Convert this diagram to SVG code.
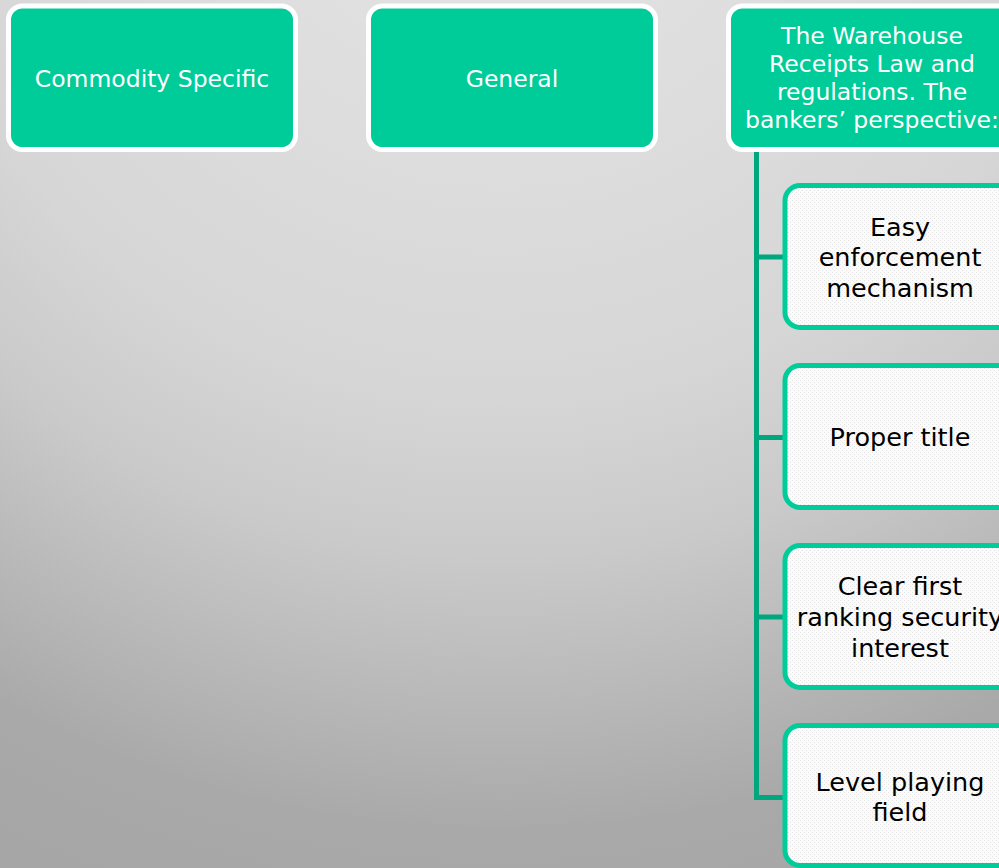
<svg xmlns="http://www.w3.org/2000/svg" width="999" height="868" viewBox="0 0 999 868">
  <defs>
    <radialGradient id="bg" gradientUnits="userSpaceOnUse" cx="500" cy="-200" r="1200">
      <stop offset="0" stop-color="#e6e6e6"/>
      <stop offset="0.33" stop-color="#dcdcdc"/>
      <stop offset="0.5" stop-color="#d6d6d6"/>
      <stop offset="0.63" stop-color="#cacaca"/>
      <stop offset="0.86" stop-color="#a9a9a9"/>
      <stop offset="1" stop-color="#a5a5a5"/>
    </radialGradient>
    <pattern id="dots" width="4" height="4" patternUnits="userSpaceOnUse">
      <rect width="4" height="4" fill="#fbfbfb"/>
      <rect x="0" y="0" width="1" height="1" fill="#e4e4e4"/>
      <rect x="2" y="2" width="1" height="1" fill="#e4e4e4"/>
    </pattern>
    <style>
      .top { fill: #00cc99; stroke: #ffffff; stroke-width: 5; }
      .child { fill: url(#dots); stroke: #00cc99; stroke-width: 5; }
      .ttxt { font-family: "DejaVu Sans", "Liberation Sans", sans-serif; font-size: 23.5px; fill: #ffffff; text-anchor: middle; }
      .ctxt { font-family: "DejaVu Sans", "Liberation Sans", sans-serif; font-size: 25.5px; fill: #000000; text-anchor: middle; }
      .conn { fill: none; stroke: #00a67e; stroke-width: 5; stroke-linejoin: miter; stroke-linecap: butt; }
    </style>
  </defs>
  <rect x="0" y="0" width="999" height="868" fill="url(#bg)"/>

  <g id="connectors">
    <path class="conn" d="M756.5 150 V797.5 H785"/>
    <path class="conn" d="M756.5 257 H785"/>
    <path class="conn" d="M756.5 437.5 H785"/>
    <path class="conn" d="M756.5 617 H785"/>
  </g>

  <g id="node-commodity">
    <rect class="top" x="8.5" y="6" width="287" height="143.5" rx="14"/>
    <text class="ttxt" x="152" y="87">Commodity Specific</text>
  </g>
  <g id="node-general">
    <rect class="top" x="368.5" y="6" width="287" height="143.5" rx="14"/>
    <text class="ttxt" x="512" y="87">General</text>
  </g>
  <g id="node-warehouse">
    <rect class="top" x="728.5" y="6" width="287" height="143.5" rx="14"/>
    <text class="ttxt" x="872" y="44">The Warehouse</text>
    <text class="ttxt" x="872" y="72">Receipts Law and</text>
    <text class="ttxt" x="872" y="100">regulations. The</text>
    <text class="ttxt" x="872" y="128">bankers’ perspective:</text>
  </g>

  <g id="node-enforcement">
    <rect class="child" x="785" y="185.5" width="292" height="142" rx="15"/>
    <text class="ctxt" x="900" y="235.5">Easy</text>
    <text class="ctxt" x="900" y="266">enforcement</text>
    <text class="ctxt" x="900" y="296.5">mechanism</text>
  </g>
  <g id="node-title">
    <rect class="child" x="785" y="365.5" width="292" height="142" rx="15"/>
    <text class="ctxt" x="900" y="446">Proper title</text>
  </g>
  <g id="node-security">
    <rect class="child" x="785" y="545.5" width="292" height="142" rx="15"/>
    <text class="ctxt" x="900" y="595">Clear first</text>
    <text class="ctxt" x="900" y="626">ranking security</text>
    <text class="ctxt" x="900" y="657">interest</text>
  </g>
  <g id="node-level">
    <rect class="child" x="785" y="725.5" width="292" height="140" rx="15"/>
    <text class="ctxt" x="900" y="790.5">Level playing</text>
    <text class="ctxt" x="900" y="821">field</text>
  </g>
</svg>
